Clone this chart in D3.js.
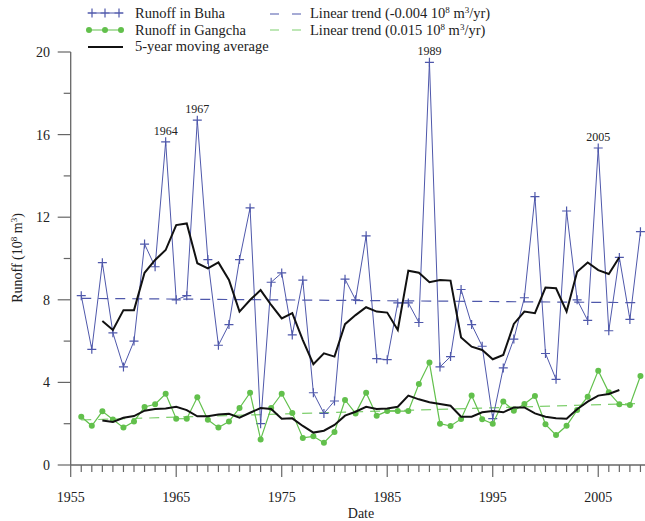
<!DOCTYPE html>
<html lang="en">
<head>
<meta charset="utf-8">
<script src="https://cdn.jsdelivr.net/npm/d3@7"></script>
<style>
  body { margin: 0; background: #fff; }
  svg text { font-family: "Liberation Serif", "Times New Roman", Times, serif; fill: #222; }
</style>
</head>
<body>
<script>
// data
var years = d3.range(1956, 2010);
var buha = [8.2, 5.6, 9.8, 6.4, 4.75, 6.0, 10.7, 9.6, 15.65, 8.0,
            8.2, 16.7, 9.95, 5.8, 6.8, 9.95, 12.45, 2.0, 8.85, 9.3,
            6.3, 8.95, 3.5, 2.5, 3.1, 9.0, 8.0, 11.1, 5.15, 5.1,
            7.85, 7.85, 6.9, 19.5, 4.75, 5.25, 8.5, 6.8, 5.75, 2.25,
            4.7, 6.1, 8.1, 13.0, 5.4, 4.15, 12.3, 8.0, 7.0, 15.35,
            6.5, 10.05, 7.05, 11.3];
var gangcha = [2.34, 1.9, 2.6, 2.2, 1.81, 2.11, 2.81, 2.94, 3.45, 2.24,
               2.24, 3.28, 2.19, 1.81, 2.11, 2.76, 3.5, 1.24, 2.76, 3.45,
               2.52, 1.31, 1.39, 1.08, 1.6, 3.15, 2.5, 3.5, 2.39, 2.61,
               2.61, 2.61, 3.92, 4.96, 2.0, 1.89, 2.23, 3.37, 2.21, 2.0,
               3.07, 2.63, 2.95, 3.34, 1.97, 1.45, 1.9, 2.66, 3.31, 4.57,
               3.52, 2.94, 2.9, 4.31];
var maYears = d3.range(1958, 2008);
var buhaMA = [6.97, 6.54, 7.5, 7.5, 9.31, 9.93, 10.41, 11.62, 11.7, 9.77,
              9.52, 9.81, 8.96, 7.43, 7.99, 8.47, 7.75, 7.1, 7.35, 6.05,
              4.88, 5.41, 5.25, 6.82, 7.26, 7.64, 7.43, 7.38, 6.54, 9.41,
              9.31, 8.85, 8.96, 8.93, 6.18, 5.73, 5.57, 5.12, 5.33, 6.83,
              7.43, 7.35, 8.59, 8.56, 7.43, 9.36, 9.81, 9.44, 9.25, 10.06];
var gangchaMA = [2.15, 2.08, 2.29, 2.37, 2.63, 2.71, 2.74, 2.82, 2.66, 2.36,
                 2.36, 2.44, 2.48, 2.29, 2.53, 2.76, 2.71, 2.24, 2.26, 1.89,
                 1.57, 1.66, 1.94, 2.39, 2.58, 2.82, 2.71, 2.74, 2.82, 3.36,
                 3.18, 3.04, 2.95, 2.87, 2.34, 2.34, 2.55, 2.61, 2.55, 2.79,
                 2.79, 2.5, 2.34, 2.26, 2.24, 2.7, 3.07, 3.36, 3.44, 3.63];
var trendYears = [1956, 2009];
var buhaTrend = [8.07, 7.86];
var gangchaTrend = [2.18, 2.98];
var peakYears = [1964, 1967, 1989, 2005];

var w = 645, h = 521;
var blue = "#4f58ab", green = "#62c04c", green2 = "#7fcf6e";
var serif = "'Liberation Serif', 'Times New Roman', Times, serif";

var svg = d3.select("body").append("svg")
  .attr("width", w).attr("height", h)
  .attr("font-family", serif);

var x = d3.scaleLinear().domain([1955, 2010]).range([70.7, 651]);
var y = d3.scaleLinear().domain([0, 20]).range([465, 52]);

// axes
var axisCol = "#666";
svg.append("line").attr("x1", x(1955)).attr("x2", w).attr("y1", y(0)).attr("y2", y(0))
  .attr("stroke", axisCol).attr("stroke-width", 1.3);
svg.append("line").attr("x1", x(1955)).attr("x2", x(1955)).attr("y1", y(0)).attr("y2", y(20))
  .attr("stroke", axisCol).attr("stroke-width", 1.3);

d3.range(1955, 2011).forEach(function(yr) {
  var major = yr % 10 == 5;
  svg.append("line").attr("x1", x(yr)).attr("x2", x(yr))
    .attr("y1", y(0)).attr("y2", y(0) + (major ? 12 : 7))
    .attr("stroke", axisCol).attr("stroke-width", 1.2);
  if (major) {
    svg.append("text").attr("x", x(yr)).attr("y", 502).attr("font-family", serif)
      .attr("text-anchor", "middle").attr("font-size", 14).text(yr);
  }
});
d3.range(0, 21, 2).forEach(function(v) {
  var major = v % 4 == 0;
  svg.append("line").attr("x1", x(1955) - (major ? 13 : 7)).attr("x2", x(1955))
    .attr("y1", y(v)).attr("y2", y(v))
    .attr("stroke", axisCol).attr("stroke-width", 1.2);
  if (major) {
    svg.append("text").attr("x", 50).attr("y", y(v) + 5).attr("font-family", serif)
      .attr("text-anchor", "end").attr("font-size", 14).text(v);
  }
});

svg.append("text").attr("x", 361).attr("y", 518).attr("text-anchor", "middle")
  .attr("font-family", serif).attr("font-size", 14).text("Date");

var yl = svg.append("text").attr("transform", "translate(22,258) rotate(-90)")
  .attr("font-family", serif).attr("text-anchor", "middle").attr("font-size", 14);
yl.append("tspan").text("Runoff (10");
yl.append("tspan").attr("dy", -5).attr("font-size", 9).text("8");
yl.append("tspan").attr("dy", 5).text(" m");
yl.append("tspan").attr("dy", -5).attr("font-size", 9).text("3");
yl.append("tspan").attr("dy", 5).text(")");

// trend lines
var line = d3.line().x(function(d) { return x(d[0]); }).y(function(d) { return y(d[1]); });
svg.append("path").datum(d3.zip(trendYears, buhaTrend)).attr("d", line)
  .attr("fill", "none").attr("stroke", blue).attr("stroke-width", 1.2).attr("stroke-dasharray", "10,7");
svg.append("path").datum(d3.zip(trendYears, gangchaTrend)).attr("d", line)
  .attr("fill", "none").attr("stroke", green2).attr("stroke-width", 1.2).attr("stroke-dasharray", "10,7");

// Buha
svg.append("path").datum(d3.zip(years, buha)).attr("d", line)
  .attr("fill", "none").attr("stroke", blue).attr("stroke-width", 1);
svg.selectAll(".plus").data(d3.zip(years, buha)).enter().append("path")
  .attr("class", "plus")
  .attr("transform", function(d) { return "translate(" + x(d[0]) + "," + y(d[1]) + ")"; })
  .attr("d", "M-4.5,0H4.5M0,-4.5V4.5")
  .attr("stroke", blue).attr("stroke-width", 1.2);

// Gangcha
svg.append("path").datum(d3.zip(years, gangcha)).attr("d", line)
  .attr("fill", "none").attr("stroke", green).attr("stroke-width", 1.2);
svg.selectAll(".dot").data(d3.zip(years, gangcha)).enter().append("circle")
  .attr("class", "dot")
  .attr("cx", function(d) { return x(d[0]); }).attr("cy", function(d) { return y(d[1]); })
  .attr("r", 3).attr("fill", green);

// moving averages
svg.append("path").datum(d3.zip(maYears, buhaMA)).attr("d", line)
  .attr("fill", "none").attr("stroke", "#111").attr("stroke-width", 2);
svg.append("path").datum(d3.zip(maYears, gangchaMA)).attr("d", line)
  .attr("fill", "none").attr("stroke", "#111").attr("stroke-width", 2);

// peak labels
peakYears.forEach(function(yr) {
  var v = buha[years.indexOf(yr)];
  svg.append("text").attr("x", x(yr)).attr("y", y(v) - 7).attr("font-family", serif)
    .attr("text-anchor", "middle").attr("font-size", 12).text(yr);
});

// legend
var lg = svg.append("g");
lg.append("line").attr("x1", 88).attr("x2", 123).attr("y1", 13).attr("y2", 13)
  .attr("stroke", blue).attr("stroke-width", 1);
[92, 105, 119].forEach(function(px) {
  lg.append("path").attr("transform", "translate(" + px + ",13)")
    .attr("d", "M-4.5,0H4.5M0,-4.5V4.5").attr("stroke", blue).attr("stroke-width", 1.2);
});
lg.append("line").attr("x1", 88).attr("x2", 123).attr("y1", 30).attr("y2", 30)
  .attr("stroke", green).attr("stroke-width", 1.2);
[89, 105, 121].forEach(function(px) {
  lg.append("circle").attr("cx", px).attr("cy", 30).attr("r", 3).attr("fill", green);
});
lg.append("line").attr("x1", 88).attr("x2", 123).attr("y1", 47).attr("y2", 47)
  .attr("stroke", "#111").attr("stroke-width", 2);

var legendText = ["Runoff in Buha", "Runoff in Gangcha", "5-year moving average"];
legendText.forEach(function(t, i) {
  lg.append("text").attr("x", 135).attr("y", 18 + i * 16.7).attr("font-family", serif)
    .attr("font-size", 14.5).text(t);
});

lg.append("line").attr("x1", 270).attr("x2", 302).attr("y1", 14).attr("y2", 14)
  .attr("stroke", blue).attr("stroke-width", 1.2).attr("stroke-dasharray", "9,13");
lg.append("line").attr("x1", 270).attr("x2", 302).attr("y1", 30).attr("y2", 30)
  .attr("stroke", green2).attr("stroke-width", 1.2).attr("stroke-dasharray", "9,13");

var trendLabels = ["-0.004", "0.015"];
trendLabels.forEach(function(s, i) {
  var t = lg.append("text").attr("x", 310).attr("y", 18 + i * 16.7)
    .attr("font-family", serif).attr("font-size", 14.5);
  t.append("tspan").text("Linear trend (" + s + " 10");
  t.append("tspan").attr("dy", -5).attr("font-size", 9).text("8");
  t.append("tspan").attr("dy", 5).text(" m");
  t.append("tspan").attr("dy", -5).attr("font-size", 9).text("3");
  t.append("tspan").attr("dy", 5).text("/yr)");
});
</script>
</body>
</html>
